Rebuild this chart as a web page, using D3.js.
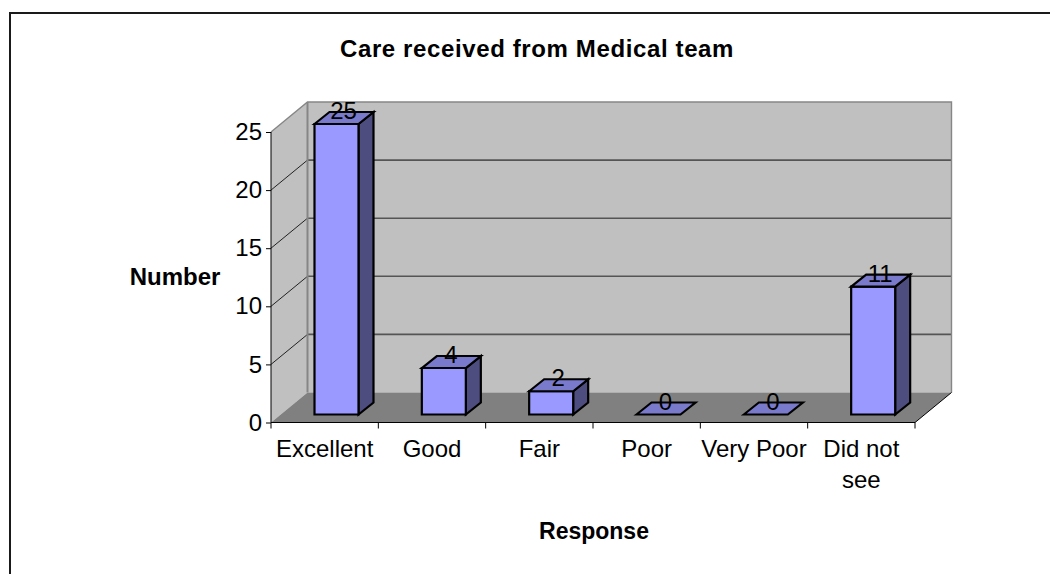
<!DOCTYPE html>
<html><head><meta charset="utf-8">
<script src="https://cdn.jsdelivr.net/npm/d3@7"></script>
<style>html,body{margin:0;padding:0;background:#fff}svg{display:block}text{font-family:"Liberation Sans",Arial,sans-serif;fill:#000}</style>
</head><body><svg id="c" width="1050" height="574"></svg>
<script>
const categories = ["Excellent","Good","Fair","Poor","Very Poor","Did not see"];
const values = [25,4,2,0,0,11];
const yTicks = [0,5,10,15,20,25];
const titleText = "Care received from Medical team";
const xTitle = "Response";
const yTitle = "Number";

const svg = d3.select("#c");
const x0=271,x1=915,yB=422.5,yT=132,dx=36.5,dy=30;
const x = d3.scaleBand().domain(categories).range([x0,x1]);
const y = d3.scaleLinear().domain([0,25]).range([yB,yT]);
const poly=(pts,fill,stroke,sw)=>svg.append("polygon").attr("points",pts.map(p=>p.join(",")).join(" ")).attr("fill",fill).attr("stroke",stroke||"none").attr("stroke-width",sw||0).attr("stroke-linejoin","miter");
const line=(a,b,c,sw)=>svg.append("line").attr("x1",a[0]).attr("y1",a[1]).attr("x2",b[0]).attr("y2",b[1]).attr("stroke",c).attr("stroke-width",sw);

// frame
svg.append("path").attr("d","M10,574V13H1050").attr("fill","none").attr("stroke","#1a1a1a").attr("stroke-width",2);

// walls
poly([[x0+dx,yT-dy],[x1+dx,yT-dy],[x1+dx,yB-dy],[x0+dx,yB-dy]],"#c0c0c0");
poly([[x0,yT],[x0+dx,yT-dy],[x0+dx,yB-dy],[x0,yB]],"#c0c0c0");
poly([[x0,yB],[x0+dx,yB-dy],[x1+dx,yB-dy],[x1,yB]],"#808080");
// gridlines
yTicks.filter(t=>t>0&&t<25).forEach(t=>{
  line([x0+dx,y(t)-dy],[x1+dx,y(t)-dy],"#555",1.6);
  line([x0,y(t)],[x0+dx,y(t)-dy],"#222",1);
});
// wall edges
svg.append("path").attr("d",`M${x0},${yT}L${x0+dx},${yT-dy}H${x1+dx}V${yB-dy}`).attr("fill","none").attr("stroke","#868686").attr("stroke-width",1.4);
line([x0+dx,yT-dy],[x0+dx,yB-dy],"#868686",2);

// axes
const yAxis = d3.axisLeft(y).tickValues(yTicks).tickSize(5).tickPadding(4);
const gy = svg.append("g").attr("transform",`translate(${x0},0)`).call(yAxis);
gy.selectAll("path").attr("d",`M0,${yT}V${yB}`).attr("stroke","#000");
gy.selectAll("line").attr("stroke","#000");
gy.selectAll("text").attr("font-size",24).attr("font-family",'"Liberation Sans"').attr("dy","0.32em");
svg.append("path").attr("d",`M${x0},${yB}H${x1}`).attr("stroke","#000").attr("fill","none");
const tickX = categories.map(c=>x(c)).concat([x1]);
tickX.forEach(t=>line([t,yB],[t,yB+6],"#000",1));
line([x1,yB],[x1+dx,yB-dy],"#000",1);

// bars
const bw=44,bdx=15,bdy=12,baseUp=8,barOffset=43.5;
categories.forEach((c,i)=>{
  const v=values[i], l=x(c)+barOffset, r=l+bw, b=yB-baseUp, t=y(v)-baseUp;
  const st="#000", sw=2.2;
  if(v>0){
    poly([[r,t],[r+bdx,t-bdy],[r+bdx,b-bdy],[r,b]],"#4d4d80",st,sw);
    poly([[l,t],[r,t],[r,b],[l,b]],"#9999ff",st,sw);
  }
  poly([[l,t],[l+bdx,t-bdy],[r+bdx,t-bdy],[r,t]],"#7a7acc",st,sw);
  svg.append("text").attr("x",l+29).attr("y",t-5).attr("text-anchor","middle").attr("font-size",24).attr("class","lab").text(v);
});

// category labels
const lblY=457;
categories.forEach(c=>{
  const cx=x(c)+x.bandwidth()/2;
  if(c==="Did not see"){
    svg.append("text").attr("x",cx).attr("y",lblY).attr("text-anchor","middle").attr("font-size",24).text("Did not");
    svg.append("text").attr("x",cx).attr("y",lblY+31).attr("text-anchor","middle").attr("font-size",24).text("see");
  } else {
    svg.append("text").attr("x",cx).attr("y",lblY).attr("text-anchor","middle").attr("font-size",24).text(c);
  }
});

// titles
svg.append("text").attr("x",537).attr("y",57).attr("text-anchor","middle").attr("font-size",24).attr("letter-spacing",0.62).attr("font-weight","bold").text(titleText);
svg.append("text").attr("x",594).attr("y",539).attr("text-anchor","middle").attr("font-size",23).attr("font-weight","bold").text(xTitle);
svg.append("text").attr("x",175).attr("y",285).attr("text-anchor","middle").attr("font-size",24).attr("font-weight","bold").text(yTitle);
</script></body></html>
